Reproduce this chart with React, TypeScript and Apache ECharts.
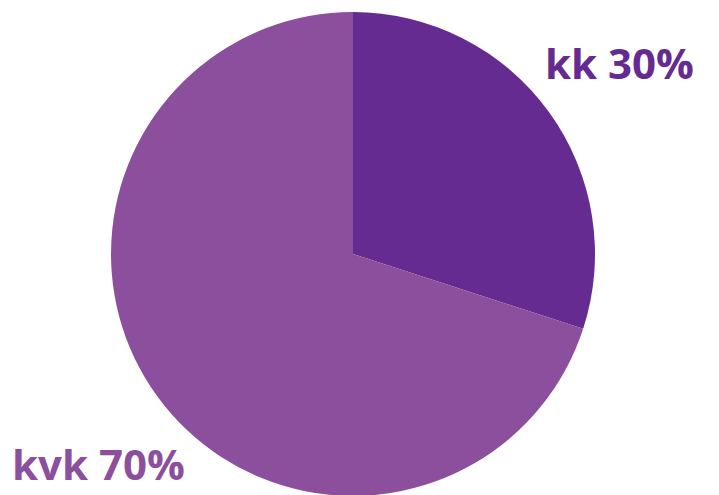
import React, { useEffect, useRef } from "react";
import * as echarts from "echarts";

const categories = ["kk", "kvk"];
const values = [30, 70];
const colors = ["#652B91", "#8C4F9D"];

export default function App() {
  const ref = useRef<HTMLDivElement>(null);
  useEffect(() => {
    const chart = echarts.init(ref.current!, null, { renderer: "svg" });
    chart.setOption({
      animation: false,
      backgroundColor: "#ffffff",
      series: [
        {
          type: "pie",
          center: [353, 254],
          radius: [0, 242],
          startAngle: 90,
          clockwise: true,
          silent: true,
          data: categories.map((name, i) => ({
            name,
            value: values[i],
            itemStyle: { color: colors[i] },
            label: { color: colors[i] },
          })),
          label: {
            show: true,
            position: "outside",
            formatter: "{b} {d}%",
            fontFamily: "Open Sans",
            fontWeight: "bold",
            fontSize: 42,
            overflow: "none",
            width: 300,
          },
          labelLine: { show: false },
          labelLayout: (params: any) =>
            params.dataIndex === 0
              ? { x: 545, y: 62, align: "left", verticalAlign: "middle" }
              : { x: 12, y: 463, align: "left", verticalAlign: "middle" },
        },
      ],
    });
    return () => chart.dispose();
  }, []);
  return (
    <div
      ref={ref}
      style={{ position: "fixed", left: 0, top: 0, width: 719, height: 495 }}
    />
  );
}
